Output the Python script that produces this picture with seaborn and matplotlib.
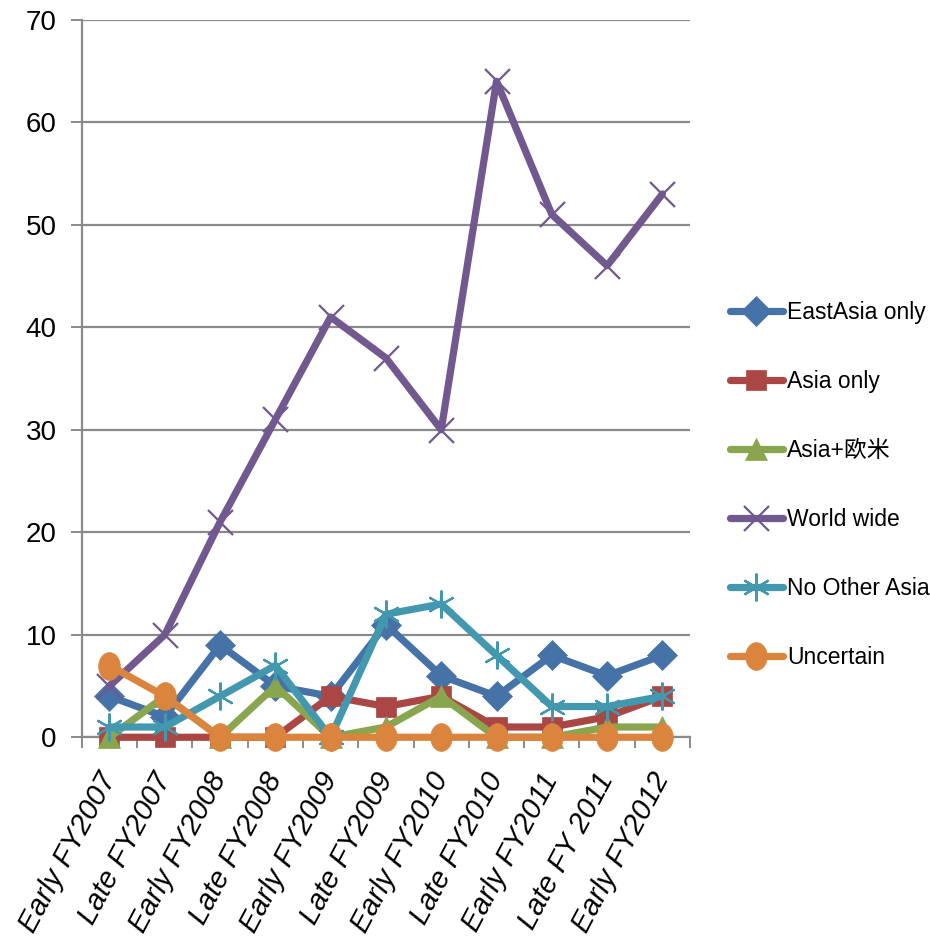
import matplotlib
matplotlib.use("Agg")
import matplotlib.pyplot as plt
from matplotlib.lines import Line2D
from matplotlib.path import Path
import numpy as np
import seaborn as sns
import pandas as pd

categories = ["Early FY2007", "Late FY2007", "Early FY2008", "Late FY2008",
              "Early FY2009", "Late FY2009", "Early FY2010", "Late FY2010",
              "Early FY2011", "Late FY 2011", "Early FY2012"]

east_asia_only = [4, 2, 9, 5, 4, 11, 6, 4, 8, 6, 8]
asia_only = [0, 0, 0, 0, 4, 3, 4, 1, 1, 2, 4]
asia_plus_west = [0, 4, 0, 5, 0, 1, 4, 0, 0, 1, 1]
world_wide = [5, 10, 21, 31, 41, 37, 30, 64, 51, 46, 53]
no_other_asia = [1, 1, 4, 7, 0, 12, 13, 8, 3, 3, 4]
uncertain = [7, 4, 0, 0, 0, 0, 0, 0, 0, 0, 0]

series_names = ["EastAsia only", "Asia only", "Asia+欧米", "World wide",
                "No Other Asia", "Uncertain"]
series_values = [east_asia_only, asia_only, asia_plus_west, world_wide,
                 no_other_asia, uncertain]

# tall ellipse marker for the "Uncertain" series
t = np.linspace(0, 2 * np.pi, 60)
ellipse = Path(np.column_stack([0.78 * np.cos(t), np.sin(t)]), closed=True)

colors = ["#4572A7", "#AA4643", "#89A54E", "#71588F", "#4198AF", "#DB843D"]
markers = ["D", "s", "^", "x", (6, 2, 0), ellipse]
msizes = [15, 15, 16, 18, 20, 20]
filled = [True, True, True, False, False, True]

sns.set_theme(style="white")
plt.rcParams["font.family"] = ["Liberation Sans", "Noto Sans CJK JP",
                               "DejaVu Sans"]
plt.rcParams["text.color"] = "black"
plt.rcParams["xtick.color"] = "black"
plt.rcParams["ytick.color"] = "black"

fig = plt.figure(figsize=(9.3, 9.38), dpi=100)
ax = fig.add_axes([0.088, 0.214, 0.654, 0.765])

line_w = 5.2
for name, vals, c, m, ms, f in zip(series_names, series_values, colors,
                                   markers, msizes, filled):
    df = pd.DataFrame({"period": categories, "count": vals})
    sns.lineplot(data=df, x="period", y="count", ax=ax, color=c, lw=line_w,
                 sort=False, marker=m, markersize=ms,
                 markerfacecolor=c if f else "none",
                 markeredgecolor=c, markeredgewidth=1.6 if not f else 0.5,
                 solid_joinstyle="round", solid_capstyle="round",
                 clip_on=False, zorder=3)

ax.set_xlim(-0.5, len(categories) - 0.5)
ax.set_ylim(0, 70)
ax.set_yticks(range(0, 71, 10))
ax.grid(axis="y", color="#8a8a8a", lw=1.6)
ax.set_axisbelow(True)
ax.set_xlabel("")
ax.set_ylabel("")

for s in ["top", "right"]:
    ax.spines[s].set_visible(False)
for s in ["left", "bottom"]:
    ax.spines[s].set_color("#8a8a8a")
    ax.spines[s].set_linewidth(1.6)

ax.tick_params(axis="y", length=8, width=1.4, color="#8a8a8a",
               labelsize=20, pad=10, left=True, labelcolor="black")
ax.set_xticks(range(len(categories)))
ax.set_xticklabels(categories, rotation=62, ha="right", va="center",
                   rotation_mode="anchor", fontsize=21, style="italic",
                   color="black")
ax.tick_params(axis="x", length=0, pad=27)
# category boundary ticks along the base axis
ax.set_xticks([i - 0.5 for i in range(len(categories) + 1)], minor=True)
ax.tick_params(axis="x", which="minor", length=8, width=1.4,
               color="#8a8a8a", bottom=True)

handles = [Line2D([0], [0], color=c, lw=line_w, marker=m, markersize=ms,
                  markerfacecolor=c if f else "none", markeredgecolor=c,
                  markeredgewidth=1.6 if not f else 0.5,
                  solid_capstyle="round")
           for c, m, ms, f in zip(colors, markers, msizes, filled)]
fig.legend(handles, series_names, loc="center left",
           bbox_to_anchor=(0.785, 0.483), frameon=False, fontsize=16.5,
           borderaxespad=0, borderpad=0,
           handlelength=2.3, handletextpad=0.2, labelspacing=2.0)

fig.savefig("out.png", dpi=100)
